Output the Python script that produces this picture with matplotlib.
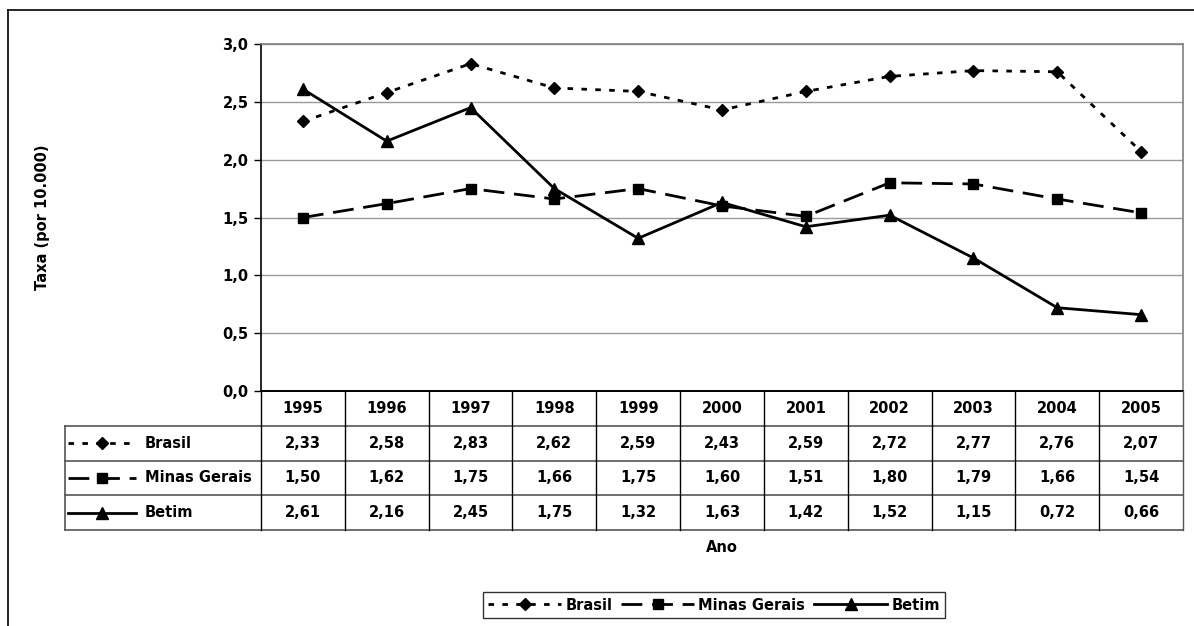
import matplotlib
matplotlib.use('Agg')
import matplotlib.pyplot as plt
from matplotlib.lines import Line2D

plt.rcParams['font.family'] = ['DejaVu Sans']
plt.rcParams['font.weight'] = 'bold'
plt.rcParams['axes.labelweight'] = 'bold'
plt.rcParams['font.size'] = 10.5

anos = ['1995', '1996', '1997', '1998', '1999', '2000',
        '2001', '2002', '2003', '2004', '2005']
brasil = [2.33, 2.58, 2.83, 2.62, 2.59, 2.43, 2.59, 2.72, 2.77, 2.76, 2.07]
minas = [1.50, 1.62, 1.75, 1.66, 1.75, 1.60, 1.51, 1.80, 1.79, 1.66, 1.54]
betim = [2.61, 2.16, 2.45, 1.75, 1.32, 1.63, 1.42, 1.52, 1.15, 0.72, 0.66]
series_names = ['Brasil', 'Minas Gerais', 'Betim']

styles = [
    dict(color='black', lw=2, dashes=(2, 3), marker='D', ms=6.5),
    dict(color='black', lw=2, dashes=(7.5, 3.5), marker='s', ms=6.5),
    dict(color='black', lw=2, linestyle='-', marker='^', ms=8),
]

W, H = 1194, 626
fig = plt.figure(figsize=(W / 100, H / 100), dpi=100)

def frac(x0, y0, x1, y1):
    # pixel box -> figure fraction [left, bottom, width, height]
    return [x0 / W, 1 - y1 / H, (x1 - x0) / W, (y1 - y0) / H]

# outer frame (top and left edges)
fig.add_artist(Line2D([8 / W, 1], [1 - 10 / H] * 2, color='black', lw=1.2))
fig.add_artist(Line2D([8 / W] * 2, [0, 1 - 10 / H], color='black', lw=1.2))

ax = fig.add_axes(frac(261, 44, 1183, 391))
x = list(range(len(anos)))
for vals, st in zip([brasil, minas, betim], styles):
    ax.plot(x, vals, **st)

ax.set_xlim(-0.5, len(anos) - 0.5)
ax.set_ylim(0, 3.0)
yt = [0, 0.5, 1.0, 1.5, 2.0, 2.5, 3.0]
ax.set_yticks(yt)
ax.set_yticklabels([f'{v:.1f}'.replace('.', ',') for v in yt])
ax.set_xticks([])
ax.yaxis.grid(True, color='#999999', lw=1)
ax.set_axisbelow(True)
ax.tick_params(axis='y', length=5, width=1, pad=4)
for s in ['top', 'right']:
    ax.spines[s].set_color('#808080')
    ax.spines[s].set_linewidth(1.2)
for s in ['left', 'bottom']:
    ax.spines[s].set_linewidth(1.2)
ax.set_ylabel('Taxa (por 10.000)', fontweight='bold')
ax.yaxis.set_label_coords(-0.229, 0.5)

# data table below the plot
colw = (1183 - 261) / len(anos)
lab = (261 - 65) / colw
tx = fig.add_axes(frac(65, 391, 1183, 530))
tx.set_xlim(-0.5 - lab, len(anos) - 0.5)
tx.set_ylim(4, 0)
tx.axis('off')

edge = '#555555'
x0 = -0.5 - lab
x1 = len(anos) - 0.5
# row lines
for r in [1, 2, 3, 4]:
    tx.plot([x0, x1], [r, r], color=edge, lw=1.2, clip_on=False)
tx.plot([-0.5, x1], [0, 0], color='black', lw=1.2, clip_on=False)
tx.plot([x0, x0], [1, 4], color=edge, lw=1.2, clip_on=False)
for c in range(len(anos) + 1):
    tx.plot([c - 0.5] * 2, [0, 4], color='black' if c < len(anos) else edge,
            lw=1, clip_on=False)

for c, a in enumerate(anos):
    tx.text(c, 0.5, a, ha='center', va='center')
for r, vals in enumerate([brasil, minas, betim]):
    for c, v in enumerate(vals):
        tx.text(c, r + 1.5, f'{v:.2f}'.replace('.', ','), ha='center', va='center')

# legend keys inside the label column
for r, (name, st) in enumerate(zip(series_names, styles)):
    yk = r + 1.5
    kx0, kx1 = x0 + 0.04, x0 + 0.85
    tx.plot([kx0, kx1], [yk, yk], **{k: v for k, v in st.items() if k not in ('marker', 'ms')},
            clip_on=False)
    tx.plot([(kx0 + kx1) / 2], [yk], marker=st['marker'], ms=st['ms'], color='black',
            clip_on=False)
    tx.text(x0 + 0.95, yk, name, ha='left', va='center')

fig.text(722 / W, 1 - 548 / H, 'Ano', ha='center', va='center')

handles = [Line2D([], [], **st) for st in styles]
leg = fig.legend(handles, series_names, loc='center', bbox_to_anchor=(714 / W, 1 - 605 / H),
                 ncol=3, frameon=True, fancybox=False, handlelength=5, handletextpad=0.3,
                 columnspacing=0.6, borderpad=0.35, fontsize=10.5)
leg.get_frame().set_edgecolor('black')
leg.get_frame().set_linewidth(1)

fig.savefig('out.png', dpi=100)
